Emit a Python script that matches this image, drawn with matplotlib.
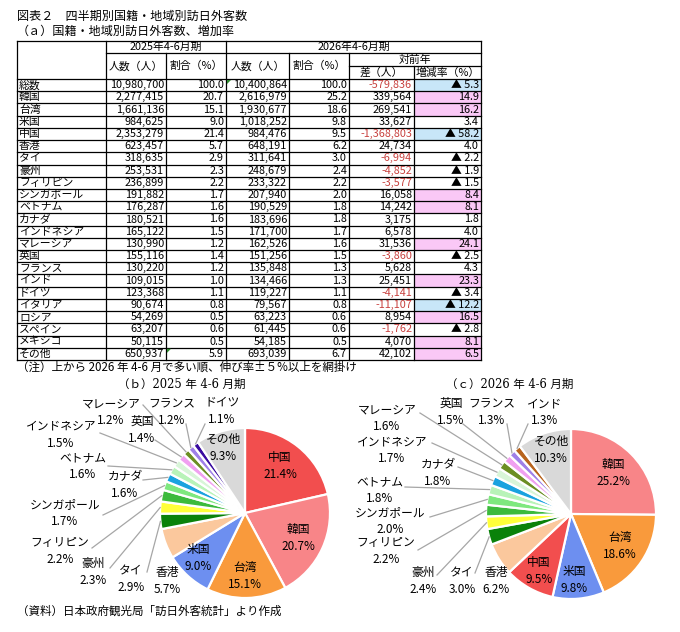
import matplotlib
matplotlib.use('Agg')
import matplotlib.pyplot as plt
from matplotlib.patches import Rectangle, Polygon
import numpy as np

plt.rcParams['font.family'] = ['Noto Sans CJK JP', 'DejaVu Sans']

# ---------------- data ----------------
names = ['総数', '韓国', '台湾', '米国', '中国', '香港', 'タイ', '豪州', 'フィリピン',
         'シンガポール', 'ベトナム', 'カナダ', 'インドネシア', 'マレーシア', '英国',
         'フランス', 'インド', 'ドイツ', 'イタリア', 'ロシア', 'スペイン', 'メキシコ', 'その他']
v2025 = [10980700, 2277415, 1661136, 984625, 2353279, 623457, 318635, 253531, 236899,
         191882, 176287, 180521, 165122, 130990, 155116, 130220, 109015, 123368,
         90674, 54269, 63207, 50115, 650937]
s2025 = [100.0, 20.7, 15.1, 9.0, 21.4, 5.7, 2.9, 2.3, 2.2, 1.7, 1.6, 1.6, 1.5, 1.2,
         1.4, 1.2, 1.0, 1.1, 0.8, 0.5, 0.6, 0.5, 5.9]
v2026 = [10400864, 2616979, 1930677, 1018252, 984476, 648191, 311641, 248679, 233322,
         207940, 190529, 183696, 171700, 162526, 151256, 135848, 134466, 119227,
         79567, 63223, 61445, 54185, 693039]
s2026 = [100.0, 25.2, 18.6, 9.8, 9.5, 6.2, 3.0, 2.4, 2.2, 2.0, 1.8, 1.8, 1.7, 1.6,
         1.5, 1.3, 1.3, 1.1, 0.8, 0.6, 0.6, 0.5, 6.7]
diff = [-579836, 339564, 269541, 33627, -1368803, 24734, -6994, -4852, -3577, 16058,
        14242, 3175, 6578, 31536, -3860, 5628, 25451, -4141, -11107, 8954, -1762,
        4070, 42102]
rate = [-5.3, 14.9, 16.2, 3.4, -58.2, 4.0, -2.2, -1.9, -1.5, 8.4, 8.1, 1.8, 4.0,
        24.1, -2.5, 4.3, 23.3, -3.4, -12.2, 16.5, -2.8, 8.1, 6.5]

pie25_labels = ['中国', '韓国', '台湾', '米国', '香港', 'タイ', '豪州', 'フィリピン',
                'シンガポール', 'カナダ', 'ベトナム', 'インドネシア', '英国', 'マレーシア',
                'フランス', 'ドイツ', 'その他']
pie25_vals = [21.4, 20.7, 15.1, 9.0, 5.7, 2.9, 2.3, 2.2, 1.7, 1.6, 1.6, 1.5, 1.4,
              1.2, 1.2, 1.1, 9.3]
pie26_labels = ['韓国', '台湾', '米国', '中国', '香港', 'タイ', '豪州', 'フィリピン',
                'シンガポール', 'ベトナム', 'カナダ', 'インドネシア', 'マレーシア', '英国',
                'フランス', 'インド', 'その他']
pie26_vals = [25.2, 18.6, 9.8, 9.5, 6.2, 3.0, 2.4, 2.2, 2.0, 1.8, 1.8, 1.7, 1.6, 1.5,
              1.3, 1.3, 10.3]

colors = {'中国': '#F24E4E', '韓国': '#F88588', '台湾': '#F99A3C', '米国': '#6D8FF0',
          '香港': '#FBC89D', 'タイ': '#0A820A', '豪州': '#FFFF3A', 'フィリピン': '#3CBA3C',
          'シンガポール': '#7EE87E', 'ベトナム': '#B8F3B8', 'カナダ': '#1AA2DF',
          'インドネシア': '#D8F5D8', 'マレーシア': '#6B8E23', '英国': '#F0A0F0',
          'フランス': '#9F80E8', 'ドイツ': '#3A0CA0', 'インド': '#B8641E',
          'その他': '#D9D9D9'}

# ---------------- figure ----------------
W, H = 680, 632
fig = plt.figure(figsize=(6.8, 6.32), dpi=100)
ax = fig.add_axes([0, 0, 1, 1])


def Y(py):
    return H - py


TXT = dict(fontsize=7.8, color='black')
NEG = '#C8413E'

# titles
ax.text(17, Y(16), '図表２　四半期別国籍・地域別訪日外客数', fontsize=8.7, ha='left', va='center')
ax.text(17, Y(31), '（ａ）国籍・地域別訪日外客数、増加率', fontsize=8.7, ha='left', va='center')

# table geometry
cx_ = [17, 106, 166, 226, 289, 349, 414, 481]
t_top, t_h1, t_h2, t_hb, t_bot = 41, 53, 66, 79, 360
rh = (t_bot - t_hb) / len(names)

# shading in rate column
for i, r in enumerate(rate):
    y0 = t_hb + i * rh
    if r >= 5:
        ax.add_patch(Rectangle((cx_[6], Y(y0 + rh)), cx_[7] - cx_[6], rh,
                               facecolor='#FAC8F6', edgecolor='none', zorder=1))
    elif r <= -5:
        ax.add_patch(Rectangle((cx_[6], Y(y0 + rh)), cx_[7] - cx_[6], rh,
                               facecolor='#C8E6F8', edgecolor='none', zorder=1))

LW = 0.9
ax.plot([cx_[0], cx_[7]], [Y(t_top)] * 2, color='black', lw=LW, zorder=3)
ax.plot([cx_[1], cx_[7]], [Y(t_h1)] * 2, color='black', lw=LW, zorder=3)
ax.plot([cx_[5], cx_[7]], [Y(t_h2)] * 2, color='black', lw=LW, zorder=3)
for i in range(len(names) + 1):
    yy = t_hb + i * rh
    ax.plot([cx_[0], cx_[7]], [Y(yy)] * 2, color='black', lw=LW, zorder=3)
vstart = {0: t_top, 1: t_top, 2: t_h1, 3: t_top, 4: t_h1, 5: t_h1, 6: t_h2, 7: t_top}
for k, x in enumerate(cx_):
    ax.plot([x, x], [Y(vstart[k]), Y(t_bot)], color='black', lw=LW, zorder=3)

# header text
ax.text((cx_[1] + cx_[3]) / 2, Y((t_top + t_h1) / 2), '2025年4-6月期', ha='center', va='center', **TXT)
ax.text((cx_[3] + cx_[7]) / 2, Y((t_top + t_h1) / 2), '2026年4-6月期', ha='center', va='center', **TXT)
for k, lab in [(1, '人数（人）'), (2, '割合（%）'), (3, '人数（人）'), (4, '割合（%）')]:
    ax.text((cx_[k] + cx_[k + 1]) / 2, Y((t_h1 + t_hb) / 2), lab, ha='center', va='center', **TXT)
ax.text((cx_[5] + cx_[7]) / 2, Y((t_h1 + t_h2) / 2), '対前年', ha='center', va='center', **TXT)
ax.text((cx_[5] + cx_[6]) / 2, Y((t_h2 + t_hb) / 2), '差（人）', ha='center', va='center', **TXT)
ax.text((cx_[6] + cx_[7]) / 2, Y((t_h2 + t_hb) / 2), '増減率（%）', ha='center', va='center', **TXT)

# body text
for i, n in enumerate(names):
    yc = Y(t_hb + (i + 0.5) * rh)
    ax.text(cx_[0] + 2, yc, n, ha='left', va='center', **TXT)
    ax.text(cx_[2] - 2, yc, f'{v2025[i]:,}', ha='right', va='center', **TXT)
    ax.text(cx_[3] - 2, yc, f'{s2025[i]:.1f}', ha='right', va='center', **TXT)
    ax.text(cx_[4] - 2, yc, f'{v2026[i]:,}', ha='right', va='center', **TXT)
    ax.text(cx_[5] - 2, yc, f'{s2026[i]:.1f}', ha='right', va='center', **TXT)
    ax.text(cx_[6] - 2, yc, f'{diff[i]:,}', ha='right', va='center',
            fontsize=7.8, color=NEG if diff[i] < 0 else 'black')
    rt = f'▲ {abs(rate[i]):.1f}' if rate[i] < 0 else f'{rate[i]:.1f}'
    ax.text(cx_[7] - 2, yc, rt, ha='right', va='center', **TXT)

# small green cell markers
for (mx, my) in [(cx_[3] + 1, t_hb + 1), (cx_[2] + 1, t_hb + 22 * rh + 1)]:
    ax.add_patch(Polygon([(mx, Y(my)), (mx + 4, Y(my)), (mx, Y(my + 4))],
                         closed=True, facecolor='#2E8B2E', edgecolor='none', zorder=4))

ax.text(17, Y(367), '（注）上から 2026 年 4-6 月で多い順、伸び率±５%以上を網掛け',
        fontsize=8.3, ha='left', va='center')

# ---------------- pies ----------------
SERIF = ['DejaVu Serif', 'Noto Sans CJK JP']
ax.text(182, Y(384), '（ｂ）2025 年 4-6 月期', fontsize=8.3, ha='center', va='center', family=SERIF)
ax.text(510, Y(384), '（ｃ）2026 年 4-6 月期', fontsize=8.3, ha='center', va='center', family=SERIF)


def draw_pie(labels, vals, center, radius, lab_pos, anchors):
    wedges, _ = ax.pie(vals, colors=[colors[n] for n in labels], startangle=90,
                       counterclock=False, center=(center[0], Y(center[1])),
                       radius=radius,
                       wedgeprops=dict(edgecolor='white', linewidth=1.6))
    for w, n, v in zip(wedges, labels, vals):
        px, py = lab_pos[n]
        ax.text(px, Y(py - 8.5), n, ha='center', va='center', fontsize=8.5, zorder=5)
        ax.text(px, Y(py + 8.5), f'{v:.1f}%', ha='center', va='center', fontsize=8.5, zorder=5)
        if n in anchors:
            th = np.deg2rad((w.theta1 + w.theta2) / 2)
            ex = w.center[0] + w.r * np.cos(th)
            ey = w.center[1] + w.r * np.sin(th)
            axx, ayy = anchors[n]
            ax.plot([axx, ex], [Y(ayy), ey], color='#A6A6A6', lw=0.9, zorder=2)


lab25 = {'中国': (280, 466), '韓国': (298, 538), '台湾': (245, 576), '米国': (198, 558),
         '香港': (167, 581), 'タイ': (131, 579), '豪州': (93, 572), 'フィリピン': (60, 551),
         'シンガポール': (65, 513), 'カナダ': (125, 485), 'ベトナム': (83, 466),
         'インドネシア': (61, 435), '英国': (142, 430), 'マレーシア': (111, 412),
         'フランス': (172, 412), 'ドイツ': (222, 411), 'その他': (223, 448)}
anc25 = {'マレーシア': (143, 405), 'フランス': (186, 424), 'ドイツ': (205, 424),
         '英国': (155, 440), 'インドネシア': (100, 433), 'ベトナム': (108, 466),
         'カナダ': (143, 480), 'シンガポール': (103, 515), 'フィリピン': (92, 548),
         '豪州': (110, 568), 'タイ': (147, 572)}
lab26 = {'韓国': (613, 473), '台湾': (620, 546), '米国': (574, 580), '中国': (539, 571),
         '香港': (496, 581), 'タイ': (462, 581), '豪州': (423, 581), 'フィリピン': (386, 551),
         'シンガポール': (390, 521), 'ベトナム': (380, 490), 'カナダ': (438, 473),
         'インドネシア': (392, 450), 'マレーシア': (387, 418), '英国': (451, 412),
         'フランス': (492, 412), 'インド': (545, 412), 'その他': (551, 450)}
anc26 = {'英国': (463, 424), 'フランス': (507, 424), 'インド': (528, 424),
         'マレーシア': (420, 413), 'インドネシア': (432, 443), 'カナダ': (458, 467),
         'ベトナム': (405, 487), 'シンガポール': (430, 517), 'フィリピン': (418, 550),
         '豪州': (437, 575), 'タイ': (475, 573)}

draw_pie(pie25_labels, pie25_vals, (245, 513), 85, lab25, anc25)
draw_pie(pie26_labels, pie26_vals, (571, 514), 85, lab26, anc26)

ax.text(17, Y(611), '（資料）日本政府観光局「訪日外客統計」より作成', fontsize=8.3,
        ha='left', va='center')

ax.set_xlim(0, W)
ax.set_ylim(0, H)
ax.set_aspect('auto')
ax.axis('off')
fig.savefig('out.png', dpi=100, facecolor='white')
